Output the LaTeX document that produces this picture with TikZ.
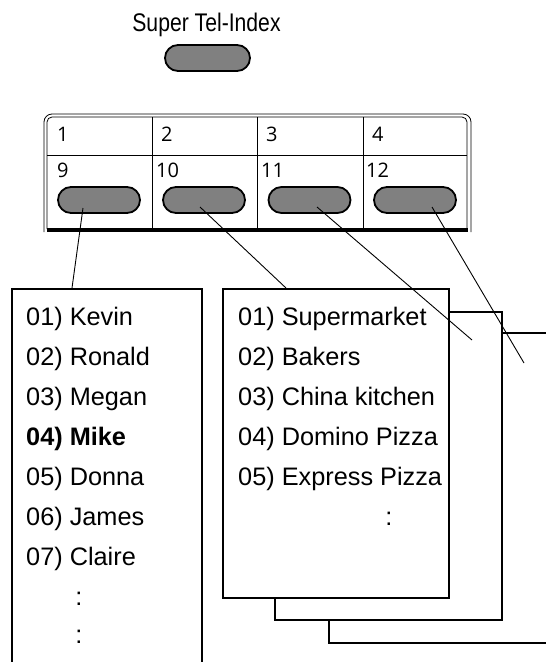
\documentclass[tikz,border=0pt]{standalone}
\usepackage{fontspec}
\usepackage{graphicx}
\setmainfont{Liberation Sans}
\newfontfamily\numfont{Open Sans}
\usetikzlibrary{shapes.misc}
\definecolor{pillgray}{RGB}{128,128,128}
\tikzset{
  pill/.style={rounded rectangle, draw=black, line width=1.8pt, fill=pillgray,
    minimum width=82pt, minimum height=26pt, inner sep=0pt},
  listbox/.style={draw=black, line width=1.8pt, fill=white, anchor=north west, inner sep=0pt},
  listtext/.style={anchor=base west, inner sep=0pt, font=\fontsize{25.3}{30}\selectfont},
  numtext/.style={anchor=base west, inner sep=0pt, font=\numfont\fontsize{20}{23}\selectfont},
  frameline/.style={line width=0.8pt, draw=black},
  conn/.style={line width=0.9pt, draw=black}
}
\begin{document}
\begin{tikzpicture}[x=1pt,y=-1pt]
\useasboundingbox (0,0) rectangle (546,662);
\clip (0,0) rectangle (546,662);
\fill[white] (0,0) rectangle (546,662);

% title
\node[anchor=base, inner sep=0pt] (title) at (206.5,31)
  {\scalebox{0.83}[1]{\fontsize{25.5}{30}\selectfont Super Tel-Index}};
\node[pill, minimum width=85pt] (ptop) at (207.5,58) {};

% panel frame
\draw[frameline, rounded corners=8pt] (44,232) -- (44,114) -- (471,114) -- (471,232);
\draw[frameline, rounded corners=5pt] (47,229) -- (47,117) -- (467,117) -- (467,229);
\draw[line width=4pt] (47,230) -- (468,230);
\draw[line width=0.8pt] (47,155) -- (467,155);
\foreach \x in {152,257,363} \draw[line width=0.8pt] (\x,117) -- (\x,228);

% numbers
\node[numtext] (n1) at (57,141) {1};
\node[numtext] (n2) at (161,141) {2};
\node[numtext] (n3) at (266,141) {3};
\node[numtext] (n4) at (372,141) {4};
\node[numtext] (n9) at (57,177) {9};
\node[numtext] (n10) at (156,177) {10};
\node[numtext] (n11) at (261,177) {11};
\node[numtext] (n12) at (366,177) {12};

% pills
\node[pill] (p9) at (99,200) {};
\node[pill] (p10) at (204,200) {};
\node[pill] (p11) at (309.5,200) {};
\node[pill] (p12) at (415,200) {};

% stacked boxes (back to front)
\node[listbox, minimum width=260pt, minimum height=310pt] (b3) at (328,332) {};
\node[listbox, minimum width=227pt, minimum height=308pt] (b2) at (274,311) {};
\node[listbox, minimum width=226pt, minimum height=309pt] (b1) at (222,288) {};

% left list box
\node[listbox, minimum width=190pt, minimum height=420pt] (lb) at (11,288) {};

% left list text
\node[listtext] (k1) at (26,325) {01) Kevin};
\node[listtext] (k2) at (26,365) {02) Ronald};
\node[listtext] (k3) at (26,405) {03) Megan};
\node[listtext, font=\fontsize{25.3}{30}\selectfont\bfseries] (k4) at (26,445) {04) Mike};
\node[listtext] (k5) at (26,485) {05) Donna};
\node[listtext] (k6) at (26,525) {06) James};
\node[listtext] (k7) at (26,565) {07) Claire};
\node[listtext, anchor=base] (kd1) at (79,605) {:};
\node[listtext, anchor=base] (kd2) at (79,643) {:};

% middle list text
\node[listtext] (m1) at (238,325) {01) Supermarket};
\node[listtext] (m2) at (238,365) {02) Bakers};
\node[listtext] (m3) at (238,405) {03) China kitchen};
\node[listtext] (m4) at (238,445) {04) Domino Pizza};
\node[listtext] (m5) at (238,485) {05) Express Pizza};
\node[listtext, anchor=base] (md) at (389,525) {:};

% connectors
\coordinate (s9) at (83,208);   \coordinate (e9) at (72,288);
\coordinate (s10) at (200,207); \coordinate (e10) at (286,288);
\coordinate (s11) at (317,207); \coordinate (e11) at (472,340);
\coordinate (s12) at (432,207); \coordinate (e12) at (524,363);
\draw[conn] (s9) -- (e9);
\draw[conn] (s10) -- (e10);
\draw[conn] (s11) -- (e11);
\draw[conn] (s12) -- (e12);
\end{tikzpicture}
\end{document}
